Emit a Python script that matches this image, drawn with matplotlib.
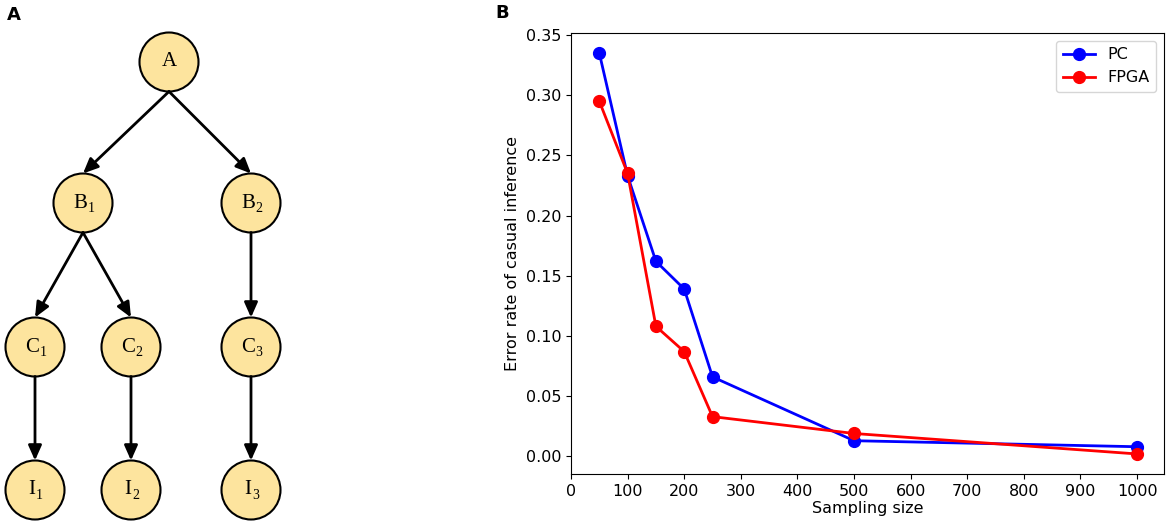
import numpy as np
import matplotlib.pyplot as plt
from matplotlib.patches import Circle

# Panel B data
sample_sizes = [50, 100, 150, 200, 250, 500, 1000]
pc_err = [0.335, 0.233, 0.162, 0.139, 0.066, 0.013, 0.008]
fpga_err = [0.295, 0.235, 0.108, 0.087, 0.033, 0.019, 0.002]

# Panel A graph (node letter, subscript, x, y in panel pixels)
node_base = ["A", "B", "B", "C", "C", "C", "I", "I", "I"]
node_sub = ["", "1", "2", "1", "2", "3", "1", "2", "3"]
node_x = [169, 83, 251, 35, 131, 251, 35, 131, 251]
node_y = [62, 203, 203, 347, 347, 347, 490, 490, 490]
edges = [(0, 1), (0, 2), (1, 3), (1, 4), (2, 5), (3, 6), (4, 7), (5, 8)]
R = 29.5

fig = plt.figure(figsize=(11.7, 5.3), dpi=100)

# ---- Panel A: causal graph ----
axA = fig.add_axes([0, 0, 300 / 1170, 1])
axA.set_xlim(0, 300)
axA.set_ylim(530, 0)
axA.axis('off')

serif = 'Liberation Serif'
for base, sub, x, y in zip(node_base, node_sub, node_x, node_y):
    axA.add_patch(Circle((x, y), R, facecolor='#FDE49E', edgecolor='black', lw=1.5, zorder=3))
    shift = -3 if sub else 0
    t = axA.text(x + shift, y, base, family=serif, ha='center', va='center', fontsize=15, zorder=4)
    if sub:
        axA.annotate(sub, xy=(1.0, 0.0), xycoords=t, xytext=(0.3, -1.5), textcoords='offset points',
                     family=serif, ha='left', va='bottom', fontsize=10, zorder=4)

for a, b in edges:
    x0, y0 = node_x[a], node_y[a] + R
    x1, y1 = node_x[b], node_y[b] - R
    axA.annotate('', xy=(x1, y1), xytext=(x0, y0),
                 arrowprops=dict(arrowstyle='-|>,head_length=0.9,head_width=0.4',
                                 color='black', lw=2, shrinkA=0, shrinkB=0))

fig.text(14 / 1170, 1 - 15 / 530, 'A', fontsize=13, fontweight='bold', ha='center', va='center')

# ---- Panel B: error rate ----
axB = fig.add_axes([571 / 1170, 1 - 474 / 530, (1164 - 571) / 1170, (474 - 33) / 530])
axB.plot(sample_sizes, pc_err, '-o', color='blue', lw=2, ms=8.5, label='PC')
axB.plot(sample_sizes, fpga_err, '-o', color='red', lw=2, ms=8.5, label='FPGA')
axB.set_xlim(left=0)
axB.set_xticks(np.arange(0, 1001, 100))
axB.set_yticks(np.arange(0, 0.351, 0.05))
axB.tick_params(labelsize=11.5)
axB.set_xlabel('Sampling size', fontsize=11.5, labelpad=2)
axB.set_ylabel('Error rate of casual inference', fontsize=11.5)
axB.legend(loc='upper right', fontsize=11.5)

fig.text(502 / 1170, 1 - 13 / 530, 'B', fontsize=13, fontweight='bold', ha='center', va='center')

fig.savefig('out.png', dpi=100)
